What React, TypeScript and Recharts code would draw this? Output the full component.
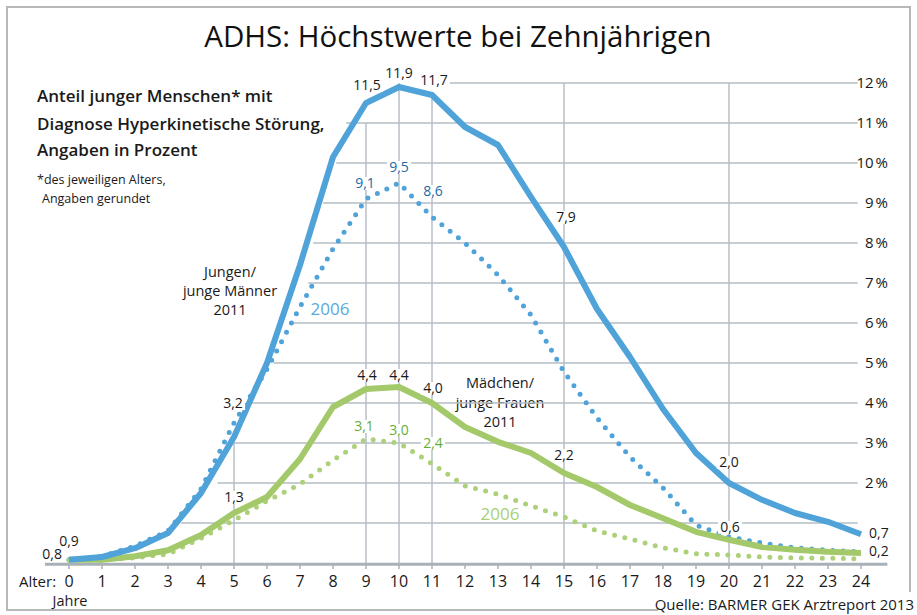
import React from "react";
import {
  LineChart, Line, XAxis, YAxis, ReferenceLine, LabelList,
} from "recharts";

// Alter in Jahren
const ages = [0, 1, 2, 3, 4, 5, 6, 7, 8, 9, 10, 11, 12, 13, 14, 15, 16, 17, 18, 19, 20, 21, 22, 23, 24];

// Anteil in Prozent
const boys2011 = [0.08, 0.15, 0.37, 0.75, 1.75, 3.15, 5.0, 7.45, 10.15, 11.5, 11.9, 11.7, 10.9, 10.45, 9.15, 7.9, 6.35, 5.15, 3.85, 2.75, 2.0, 1.58, 1.25, 1.03, 0.72];
const boys2006 = [0.08, 0.17, 0.42, 0.8, 1.85, 3.5, 4.85, 6.4, 7.85, 9.1, 9.5, 8.65, 8.0, 7.2, 6.2, 4.78, 3.63, 2.65, 1.88, 0.95, 0.65, 0.5, 0.38, 0.32, 0.28];
const girls2011 = [0.08, 0.08, 0.17, 0.32, 0.7, 1.25, 1.65, 2.6, 3.9, 4.35, 4.4, 4.0, 3.4, 3.03, 2.75, 2.25, 1.9, 1.45, 1.12, 0.78, 0.58, 0.4, 0.33, 0.28, 0.25];
const girls2006 = [0.07, 0.07, 0.13, 0.22, 0.62, 1.07, 1.55, 1.97, 2.57, 3.1, 3.0, 2.48, 1.93, 1.72, 1.43, 1.15, 0.8, 0.6, 0.38, 0.23, 0.2, 0.15, 0.13, 0.12, 0.1];

// Beschriftungen an den Punkten (so wie im Original gedruckt)
const boys2011Labels = ["0,9", null, null, null, null, "3,2", null, null, null, "11,5", "11,9", "11,7", null, null, null, "7,9", null, null, null, null, "2,0", null, null, null, "0,7"];
const boys2006Labels = [null, null, null, null, null, null, null, null, null, "9,1", "9,5", "8,6", null, null, null, null, null, null, null, null, null, null, null, null, null];
const girls2011Labels = ["0,8", null, null, null, null, "1,3", null, null, null, "4,4", "4,4", "4,0", null, null, null, "2,2", null, null, null, null, "0,6", null, null, null, "0,2"];
const girls2006Labels = [null, null, null, null, null, null, null, null, null, "3,1", "3,0", "2,4", null, null, null, null, null, null, null, null, null, null, null, null, null];

const yTicks = [2, 3, 4, 5, 6, 7, 8, 9, 10, 11, 12];
const gridLevels = [1, 2, 3, 4, 5, 6, 7, 8, 9, 10, 11, 12];
const gridStartAge = [3.4, 4.5, 5.0, 5.4, 6.2, 6.7, 7.25, 7.4, 7.7, 8.1, 8.4, 11.5];
const markerAges = [5, 9, 10, 11, 15, 20];
const markerTops = [3.0, 11.0, 12, 11.6, 12, 12];

const BLUE = "#4fa3d8";
const GREEN = "#a3c96b";
const GREEN_DOT = "#add07a";
const FONT = "'Open Sans', 'Noto Sans', sans-serif";

const rows = ages.map((age, i) => ({
  age,
  boys2011: boys2011[i],
  boys2006: boys2006[i],
  girls2011: girls2011[i],
  girls2006: girls2006[i],
  lb11: boys2011Labels[i],
  lb06: boys2006Labels[i],
  lg11: girls2011Labels[i],
  lg06: girls2006Labels[i],
}));

type Spot = { dx: number; dy: number; anchor?: "start" | "middle" | "end" };
const spots: Record<string, Spot> = {
  "b11-0": { dx: 0, dy: -14 },
  "b11-5": { dx: -1, dy: -29 },
  "b11-9": { dx: 1, dy: -13 },
  "b11-10": { dx: 0, dy: -9 },
  "b11-11": { dx: 2, dy: -10 },
  "b11-15": { dx: 2, dy: -25 },
  "b11-20": { dx: 0, dy: -16 },
  "b11-24": { dx: 8, dy: 4, anchor: "start" },
  "b06-9": { dx: -1, dy: -11 },
  "b06-10": { dx: 0, dy: -11 },
  "b06-11": { dx: 1, dy: -21 },
  "g11-0": { dx: -7, dy: -1, anchor: "end" },
  "g11-5": { dx: 0, dy: -11 },
  "g11-9": { dx: 1, dy: -9 },
  "g11-10": { dx: 0, dy: -7 },
  "g11-11": { dx: 1, dy: -10 },
  "g11-15": { dx: 0, dy: -13 },
  "g11-20": { dx: 1, dy: -8 },
  "g11-24": { dx: 8, dy: 3, anchor: "start" },
  "g06-9": { dx: -2, dy: -8 },
  "g06-10": { dx: 0, dy: -8 },
  "g06-11": { dx: 1, dy: -16 },
};

function pointLabel(series: string, color: string) {
  return (props: any) => {
    const { x, y, value, index } = props;
    if (!value) return null;
    const spot = spots[`${series}-${ages[index]}`] ?? { dx: 0, dy: -12 };
    const anchor = spot.anchor ?? "middle";
    const tx = x + spot.dx;
    const ty = y + spot.dy;
    const w = String(value).length * 7.4;
    const left = anchor === "middle" ? tx - w / 2 : anchor === "end" ? tx - w : tx;
    return (
      <g>
        <rect x={left - 1} y={ty - 11} width={w + 2} height={13} fill="#fff" />
        <text x={tx} y={ty} textAnchor={anchor} fontSize={14} fontFamily={FONT} fill={color}>
          {value}
        </text>
      </g>
    );
  };
}

const XTick = (props: any) => {
  const { x, y, payload } = props;
  return (
    <text x={x} y={y + 16} textAnchor="middle" fontSize={16} fontFamily={FONT} fill="#1a1a1a">
      {payload.value}
    </text>
  );
};

const YTick = (props: any) => {
  const { x, y, payload } = props;
  return (
    <text x={x + 19} y={y + 5} textAnchor="end" fontSize={15} fontFamily={FONT} fill="#1a1a1a">
      {payload.value}{"\u202F"}%
    </text>
  );
};

function Backdrop() {
  return (
    <svg width={917} height={615} style={{ position: "absolute", left: 0, top: 0 }}>
      <path d="M660 610 H7 V7 H910 V600" fill="none" stroke="#b8b8b8" strokeWidth={2} />
      <text x={458} y={47} textAnchor="middle" fontSize={29.5} fontFamily={FONT} fill="#111">
        ADHS: Höchstwerte bei Zehnjährigen
      </text>
      <g fontFamily={FONT} fontSize={17} fontWeight={600} fill="#1a1a1a">
        <text x={37} y={102}>Anteil junger Menschen* mit</text>
        <text x={37} y={130}>Diagnose Hyperkinetische Störung,</text>
        <text x={37} y={156}>Angaben in Prozent</text>
      </g>
      <g fontFamily={FONT} fontSize={12.5} fill="#1a1a1a">
        <text x={37} y={184}>*des jeweiligen Alters,</text>
        <text x={42} y={203}>Angaben gerundet</text>
      </g>
      <g fontFamily={FONT} fontSize={14.5} fill="#1a1a1a" textAnchor="middle">
        <text x={230} y={277}>Jungen/</text>
        <text x={230} y={296}>junge Männer</text>
        <text x={230} y={315}>2011</text>
        <text x={500} y={388}>Mädchen/</text>
        <text x={500} y={408}>junge Frauen</text>
        <text x={500} y={427}>2011</text>
      </g>
      <text x={19} y={587} fontFamily={FONT} fontSize={15} fill="#1a1a1a">Alter:</text>
      <text x={70} y={606} textAnchor="middle" fontFamily={FONT} fontSize={14.5} fill="#1a1a1a">Jahre</text>
      <rect x={658} y={592} width={259} height={23} fill="#fff" />
      <text x={914} y={610} textAnchor="end" fontFamily={FONT} fontSize={15} fill="#1a1a1a">
        Quelle: BARMER GEK Arztreport 2013
      </text>
    </svg>
  );
}

export default function App() {
  return (
    <div style={{ position: "absolute", left: 0, top: 0, width: 917, height: 615, background: "#fff" }}>
      <Backdrop />
      <div style={{ position: "absolute", left: 0, top: 0 }}>
        <LineChart width={917} height={615} data={rows} margin={{ top: 83, right: 26, bottom: 22, left: 69 }}>
          <XAxis
            dataKey="age"
            type="number"
            domain={[0, 24]}
            ticks={ages}
            interval={0}
            axisLine={false}
            tickLine={{ stroke: "#a9b1b8", strokeWidth: 1.5 }}
            tickSize={6}
            height={30}
            tick={<XTick />}
          />
          <YAxis
            orientation="right"
            type="number"
            domain={[0, 12]}
            ticks={yTicks}
            axisLine={false}
            tickLine={false}
            width={30}
            tick={<YTick />}
          />
          {markerAges.map((a, i) => (
            <ReferenceLine
              key={"v" + a}
              segment={[{ x: a, y: 0 }, { x: a, y: markerTops[i] }]}
              stroke="#bcc3ca"
              strokeWidth={1.6}
              ifOverflow="visible"
            />
          ))}
          {gridLevels.map((lvl, i) => (
            <ReferenceLine
              key={"h" + lvl}
              segment={[{ x: gridStartAge[i], y: lvl }, { x: 23.9, y: lvl }]}
              stroke="#b3bcc4"
              strokeWidth={1.5}
              ifOverflow="visible"
            />
          ))}
          <ReferenceLine
            segment={[{ x: -0.73, y: -0.03 }, { x: 24.8, y: -0.03 }]}
            stroke="#a9b1b8"
            strokeWidth={3}
            ifOverflow="visible"
          />
          <Line dataKey="boys2006" stroke={BLUE} strokeWidth={5} strokeDasharray="0 10.5" strokeLinecap="round" dot={false} isAnimationActive={false} />
          <Line dataKey="girls2006" stroke={GREEN_DOT} strokeWidth={5} strokeDasharray="0 10.5" strokeLinecap="round" dot={false} isAnimationActive={false} />
          <Line dataKey="girls2011" stroke={GREEN} strokeWidth={6} strokeLinejoin="round" dot={false} isAnimationActive={false} />
          <Line dataKey="boys2011" stroke={BLUE} strokeWidth={6} strokeLinejoin="round" dot={false} isAnimationActive={false} />
          {/* unsichtbare Kopien nur für die Beschriftungen, damit sie oben liegen */}
          <Line dataKey="boys2011" stroke="none" dot={false} activeDot={false} isAnimationActive={false}>
            <LabelList dataKey="lb11" content={pointLabel("b11", "#1a1a1a")} />
          </Line>
          <Line dataKey="boys2006" stroke="none" dot={false} activeDot={false} isAnimationActive={false}>
            <LabelList dataKey="lb06" content={pointLabel("b06", "#1d6aa5")} />
          </Line>
          <Line dataKey="girls2011" stroke="none" dot={false} activeDot={false} isAnimationActive={false}>
            <LabelList dataKey="lg11" content={pointLabel("g11", "#1a1a1a")} />
          </Line>
          <Line dataKey="girls2006" stroke="none" dot={false} activeDot={false} isAnimationActive={false}>
            <LabelList dataKey="lg06" content={pointLabel("g06", "#67ad37")} />
          </Line>
        </LineChart>
      </div>
      <svg width={917} height={615} style={{ position: "absolute", left: 0, top: 0, pointerEvents: "none" }}>
        <text x={330} y={315} textAnchor="middle" fontFamily={FONT} fontSize={17} fill="#5ba8dc">2006</text>
        <text x={500} y={520} textAnchor="middle" fontFamily={FONT} fontSize={17} fill="#a8cf73">2006</text>
      </svg>
    </div>
  );
}
